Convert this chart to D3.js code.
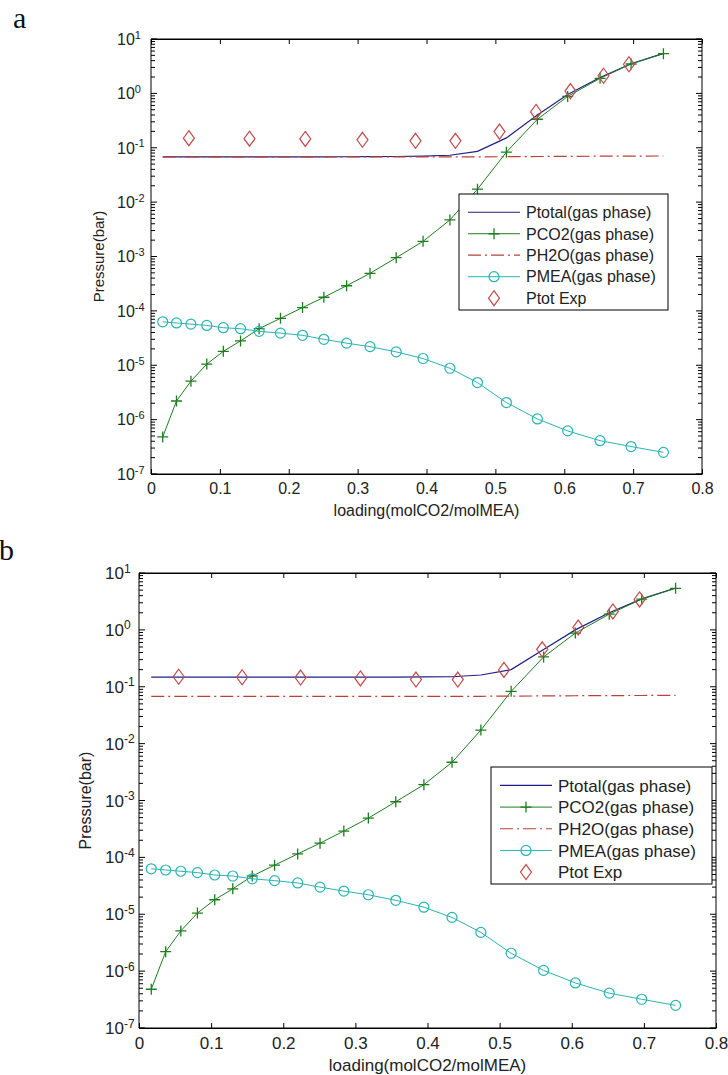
<!DOCTYPE html>
<html>
<head>
<meta charset="utf-8">
<script src="https://cdn.jsdelivr.net/npm/d3@7"></script>
<style>
  body { margin: 0; background: #fff; }
  svg { display: block; }
  text { font-family: "Liberation Sans", Arial, sans-serif; }
</style>
</head>
<body>
<svg id="fig" width="728" height="1075"></svg>
<script>
// CO2 loading (mol CO2 / mol MEA) of the model points
const loading = [0.017, 0.037, 0.058, 0.081, 0.105, 0.130, 0.157, 0.188, 0.220, 0.251, 0.284,
                 0.318, 0.356, 0.395, 0.434, 0.474, 0.516, 0.561, 0.605, 0.652, 0.697, 0.744];

// Partial pressures of the gas phase (bar)
const pco2 = [4.8e-7, 2.2e-6, 5.1e-6, 1.05e-5, 1.8e-5, 2.8e-5, 4.7e-5, 7.3e-5, 1.15e-4, 1.78e-4, 2.9e-4,
              4.9e-4, 9.5e-4, 1.9e-3, 4.7e-3, 1.73e-2, 8.3e-2, 0.334, 0.88, 1.89, 3.47, 5.37];
const pmea = [6.3e-5, 6.0e-5, 5.7e-5, 5.4e-5, 4.9e-5, 4.7e-5, 4.2e-5, 3.9e-5, 3.55e-5, 3.0e-5, 2.55e-5,
              2.2e-5, 1.76e-5, 1.33e-5, 8.8e-6, 4.8e-6, 2.06e-6, 1.03e-6, 6.2e-7, 4.1e-7, 3.2e-7, 2.5e-7];
const ph2o = [0.068, 0.068, 0.068, 0.068, 0.068, 0.068, 0.068, 0.068, 0.068, 0.068, 0.068,
              0.068, 0.068, 0.068, 0.068, 0.068, 0.0685, 0.069, 0.0695, 0.070, 0.0702, 0.0705];

// Total pressure, model a and model b (bar)
const ptotalA = [0.068, 0.068, 0.068, 0.068, 0.068, 0.068, 0.068, 0.068, 0.0681, 0.0682, 0.0683,
                 0.0685, 0.069, 0.070, 0.0728, 0.086, 0.152, 0.402, 0.95, 1.96, 3.5, 5.45];
const ptotalB = [0.148, 0.148, 0.148, 0.148, 0.148, 0.148, 0.148, 0.148, 0.148, 0.148, 0.148,
                 0.148, 0.148, 0.149, 0.150, 0.161, 0.200, 0.45, 1.0, 2.0, 3.5, 5.45];

// Measured total pressure
const expLoading = [0.055, 0.143, 0.224, 0.307, 0.384, 0.442, 0.506, 0.559, 0.609, 0.657, 0.694];
const expPtot    = [0.150, 0.147, 0.145, 0.140, 0.134, 0.134, 0.198, 0.455, 1.10, 2.11, 3.43];

const xTicks = [0, 0.1, 0.2, 0.3, 0.4, 0.5, 0.6, 0.7, 0.8];
const xTickLabels = ["0", "0.1", "0.2", "0.3", "0.4", "0.5", "0.6", "0.7", "0.8"];
const yTickExps = [1, 0, -1, -2, -3, -4, -5, -6, -7];
const legendLabels = ["Ptotal(gas phase)", "PCO2(gas phase)", "PH2O(gas phase)", "PMEA(gas phase)", "Ptot Exp"];

const colors = {
  ptotal: "#1f1f85",
  pco2: "#1e7d1e",
  ph2o: "#b8423a",
  pmea: "#2ab3b3",
  exp: "#c24a48"
};

const svg = d3.select("#fig");

const panels = [
  { letter: "a", letterX: 13, letterY: 28, left: 151, top: 39, right: 702, bottom: 474, font: 16,
    ptotal: ptotalA, legend: { x: 459, y: 194, w: 209, h: 116 }, yLabelX: 104, xLabelY: 516 },
  { letter: "b", letterX: -1, letterY: 560, left: 139, top: 573, right: 716, bottom: 1028, font: 17,
    ptotal: ptotalB, legend: { x: 491, y: 767, w: 221, h: 117 }, yLabelX: 91, xLabelY: 1071 }
];

function diamondPath(cx, cy, hw, hh) {
  return `M${cx},${cy - hh}L${cx + hw},${cy}L${cx},${cy + hh}L${cx - hw},${cy}Z`;
}
function plusPath(cx, cy, r) {
  return `M${cx - r},${cy}H${cx + r}M${cx},${cy - r}V${cy + r}`;
}

panels.forEach(p => {
  const g = svg.append("g");
  const x = d3.scaleLinear().domain([0, 0.8]).range([p.left, p.right]);
  const y = d3.scaleLog().domain([1e-7, 10]).range([p.bottom, p.top]);
  const fs = p.font;

  // panel letter
  g.append("text").attr("x", p.letterX).attr("y", p.letterY)
    .style("font-family", "'Liberation Serif', 'Times New Roman', serif")
    .style("font-size", "30px").attr("fill", "#111").text(p.letter);

  // plot box
  g.append("rect").attr("x", p.left).attr("y", p.top)
    .attr("width", p.right - p.left).attr("height", p.bottom - p.top)
    .attr("fill", "#fff").attr("stroke", "none");

  // x axes (bottom labelled, top ticks only), ticks pointing inward
  const xb = g.append("g").attr("transform", `translate(0,${p.bottom})`)
    .call(d3.axisBottom(x).tickValues(xTicks).tickSizeInner(-5).tickSizeOuter(0)
      .tickPadding(9).tickFormat((d, i) => xTickLabels[i]));
  xb.selectAll("text").style("font-size", fs + "px").attr("fill", "#222");
  g.append("g").attr("transform", `translate(0,${p.top})`)
    .call(d3.axisTop(x).tickValues(xTicks).tickSizeInner(-5).tickSizeOuter(0).tickFormat(""));

  // y axes: decades with log minor ticks
  const minor = [];
  for (let e = -7; e < 1; e++) for (let k = 2; k <= 9; k++) minor.push(k * Math.pow(10, e));
  const majors = yTickExps.map(e => Math.pow(10, e));
  [[p.left, 1], [p.right, -1]].forEach(([ax, dir]) => {
    const ya = g.append("g");
    ya.append("line").attr("x1", ax).attr("x2", ax).attr("y1", p.top).attr("y2", p.bottom)
      .attr("stroke", "#000");
    ya.selectAll("line.maj").data(majors).join("line").attr("class", "maj")
      .attr("x1", ax).attr("x2", ax + dir * 6).attr("y1", d => y(d)).attr("y2", d => y(d))
      .attr("stroke", "#000");
    ya.selectAll("line.min").data(minor).join("line").attr("class", "min")
      .attr("x1", ax).attr("x2", ax + dir * 4).attr("y1", d => y(d)).attr("y2", d => y(d))
      .attr("stroke", "#000");
  });
  g.selectAll(".domain").attr("stroke", "#000");
  g.append("line").attr("x1", p.left).attr("x2", p.right).attr("y1", p.bottom).attr("y2", p.bottom).attr("stroke", "#000");
  g.append("line").attr("x1", p.left).attr("x2", p.right).attr("y1", p.top).attr("y2", p.top).attr("stroke", "#000");

  // y tick labels 10^n
  const yl = g.selectAll("text.ylab").data(yTickExps).join("text").attr("class", "ylab")
    .attr("x", p.left - 34).attr("y", d => y(Math.pow(10, d)))
    .attr("dy", "0.36em").style("font-size", fs + "px").attr("fill", "#222");
  yl.append("tspan").text("10");
  yl.append("tspan").attr("dy", "-0.55em").style("font-size", (fs - 5) + "px").text(d => String(d));

  // axis titles
  g.append("text").attr("x", (p.left + p.right) / 2).attr("y", p.xLabelY)
    .attr("text-anchor", "middle").style("font-size", fs + "px").attr("fill", "#222")
    .text("loading(molCO2/molMEA)");
  g.append("text").attr("transform", `translate(${p.yLabelX},${(p.top + p.bottom) / 2}) rotate(-90)`)
    .attr("text-anchor", "middle").style("font-size", (fs - 1) + "px").attr("fill", "#222")
    .text("Pressure(bar)");

  // series
  const line = vals => d3.line().x((d, i) => x(loading[i])).y(d => y(d))(vals);

  g.append("path").attr("d", line(p.ptotal)).attr("fill", "none")
    .attr("stroke", colors.ptotal).attr("stroke-width", 1.2);

  g.append("path").attr("d", line(pco2)).attr("fill", "none")
    .attr("stroke", colors.pco2).attr("stroke-width", 1);
  g.append("path").attr("d", pco2.map((v, i) => plusPath(x(loading[i]), y(v), 5.5)).join(""))
    .attr("fill", "none").attr("stroke", colors.pco2).attr("stroke-width", 1.3);

  g.append("path").attr("d", line(ph2o)).attr("fill", "none")
    .attr("stroke", colors.ph2o).attr("stroke-width", 1.2).attr("stroke-dasharray", "13,4,2,4");

  g.append("path").attr("d", line(pmea)).attr("fill", "none")
    .attr("stroke", colors.pmea).attr("stroke-width", 1);
  g.selectAll("circle.mea").data(pmea).join("circle").attr("class", "mea")
    .attr("cx", (d, i) => x(loading[i])).attr("cy", d => y(d)).attr("r", 5)
    .attr("fill", "none").attr("stroke", colors.pmea).attr("stroke-width", 1.2);

  g.selectAll("path.exp").data(expPtot).join("path").attr("class", "exp")
    .attr("d", (d, i) => diamondPath(x(expLoading[i]), y(d), 5.5, 7.5))
    .attr("fill", "none").attr("stroke", colors.exp).attr("stroke-width", 1.2);

  // legend
  const L = p.legend;
  const lg = g.append("g");
  lg.append("rect").attr("x", L.x).attr("y", L.y).attr("width", L.w).attr("height", L.h)
    .attr("fill", "#fff").attr("stroke", "#000");
  const rowH = L.h / 5.4;
  const sx0 = L.x + 9, sx1 = L.x + 61, sxm = (sx0 + sx1) / 2;
  legendLabels.forEach((lab, i) => {
    const ry = L.y + rowH * (i + 0.85);
    if (i === 0) lg.append("line").attr("x1", sx0).attr("x2", sx1).attr("y1", ry).attr("y2", ry)
      .attr("stroke", colors.ptotal).attr("stroke-width", 1.2);
    if (i === 1) {
      lg.append("line").attr("x1", sx0).attr("x2", sx1).attr("y1", ry).attr("y2", ry)
        .attr("stroke", colors.pco2);
      lg.append("path").attr("d", plusPath(sxm, ry, 5.5)).attr("stroke", colors.pco2).attr("stroke-width", 1.3);
    }
    if (i === 2) lg.append("line").attr("x1", sx0).attr("x2", sx1).attr("y1", ry).attr("y2", ry)
      .attr("stroke", colors.ph2o).attr("stroke-width", 1.2).attr("stroke-dasharray", "13,4,2,4");
    if (i === 3) {
      lg.append("line").attr("x1", sx0).attr("x2", sx1).attr("y1", ry).attr("y2", ry)
        .attr("stroke", colors.pmea);
      lg.append("circle").attr("cx", sxm).attr("cy", ry).attr("r", 5)
        .attr("fill", "none").attr("stroke", colors.pmea).attr("stroke-width", 1.2);
    }
    if (i === 4) lg.append("path").attr("d", diamondPath(sxm, ry, 5.5, 7.5))
      .attr("fill", "none").attr("stroke", colors.exp).attr("stroke-width", 1.2);
    lg.append("text").attr("x", L.x + 67).attr("y", ry).attr("dy", "0.36em")
      .style("font-size", fs + "px").attr("fill", "#222").text(lab);
  });
});
</script>
</body>
</html>
